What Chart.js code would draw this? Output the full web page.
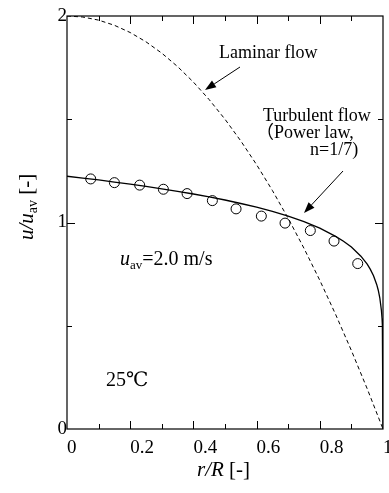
<!DOCTYPE html>
<html>
<head>
<meta charset="utf-8">
<script src="https://cdn.jsdelivr.net/npm/chart.js@4.4.1/dist/chart.umd.min.js"></script>
<style>
  html, body { margin: 0; padding: 0; background: #fff; }
  #wrap { width: 389px; height: 493px; }
</style>
</head>
<body>
<div id="wrap"><canvas id="profile"></canvas></div>
<script>
// velocity profile in a pipe, r/R against u/uav

// measured points (circles)
const measR = [0.075, 0.15, 0.23, 0.305, 0.38, 0.46, 0.535, 0.615, 0.69, 0.77, 0.845, 0.92];
const measU = [1.211, 1.193, 1.181, 1.161, 1.140, 1.106, 1.066, 1.031, 0.997, 0.961, 0.910, 0.801];

// laminar profile (dashed)
const lamR = [0, 0.05, 0.1, 0.15, 0.2, 0.25, 0.3, 0.35, 0.4, 0.45, 0.5, 0.55, 0.6, 0.65, 0.7, 0.75, 0.8, 0.85, 0.9, 0.95, 1];
const lamU = [2, 1.995, 1.98, 1.955, 1.92, 1.875, 1.82, 1.755, 1.68, 1.595, 1.5, 1.395, 1.28, 1.155, 1.02, 0.875, 0.72, 0.555, 0.38, 0.195, 0];

// turbulent profile, power law n=1/7 (solid)
const turbR = [0, 0.05, 0.1, 0.15, 0.2, 0.25, 0.3, 0.35, 0.4, 0.45, 0.5, 0.55, 0.6, 0.65, 0.7, 0.75, 0.8, 0.85, 0.875, 0.9, 0.93, 0.95, 0.96, 0.97, 0.98, 0.985, 0.99, 0.995, 0.997, 0.998, 1];
const turbU = [1.224, 1.215, 1.206, 1.196, 1.186, 1.175, 1.163, 1.151, 1.138, 1.124, 1.109, 1.092, 1.074, 1.054, 1.031, 1.004, 0.973, 0.933, 0.909, 0.881, 0.837, 0.798, 0.773, 0.742, 0.700, 0.672, 0.634, 0.574, 0.535, 0.504, 0];

// tick labels
const xTickValues = [0, 0.2, 0.4, 0.6, 0.8, 1];
const xTickLabels = ['0', '0.2', '0.4', '0.6', '0.8', '1'];
const yTickValues = [0, 1, 2];
const yTickLabels = ['0', '1', '2'];

const SERIF = "'Liberation Serif', 'DejaVu Serif', 'Noto Sans CJK JP', serif";

function pairs(xs, ys) {
    return xs.map((x, i) => ({ x: x, y: ys[i] }));
}

function arrow(ctx, x1, y1, x2, y2) {
    const ang = Math.atan2(y2 - y1, x2 - x1);
    const len = 11, half = 4;
    const bx = x2 - len * Math.cos(ang), by = y2 - len * Math.sin(ang);
    ctx.beginPath();
    ctx.moveTo(x1, y1);
    ctx.lineTo(bx, by);
    ctx.stroke();
    ctx.beginPath();
    ctx.moveTo(x2, y2);
    ctx.lineTo(bx + half * Math.sin(ang), by - half * Math.cos(ang));
    ctx.lineTo(bx - half * Math.sin(ang), by + half * Math.cos(ang));
    ctx.closePath();
    ctx.fill();
}

// frame, inward ticks, axis titles and notes
const decorations = {
    id: 'decorations',
    afterDraw(chart) {
        const ctx = chart.ctx;
        const a = chart.chartArea;
        const xs = chart.scales.x, ys = chart.scales.y;
        ctx.save();
        ctx.strokeStyle = '#000';
        ctx.fillStyle = '#000';
        ctx.lineWidth = 1.2;
        ctx.strokeRect(a.left, a.top, a.right - a.left, a.bottom - a.top);

        ctx.lineWidth = 1;
        ctx.beginPath();
        for (let i = 1; i < 10; i++) {
            const px = Math.round(xs.getPixelForValue(i / 10)) + 0.5;
            const len = i % 2 === 0 ? 8 : 5;
            ctx.moveTo(px, a.bottom); ctx.lineTo(px, a.bottom - len);
            ctx.moveTo(px, a.top); ctx.lineTo(px, a.top + len);
        }
        [0.5, 1, 1.5].forEach(v => {
            const py = Math.round(ys.getPixelForValue(v)) + 0.5;
            const len = v === 1 ? 8 : 5;
            ctx.moveTo(a.left, py); ctx.lineTo(a.left + len, py);
            ctx.moveTo(a.right, py); ctx.lineTo(a.right - len, py);
        });
        ctx.stroke();

        ctx.textBaseline = 'alphabetic';
        ctx.textAlign = 'left';

        // x title: r/R [-]
        let x = 197;
        ctx.font = 'italic 21px ' + SERIF;
        ctx.fillText('r/R', x, 476);
        x += ctx.measureText('r/R').width;
        ctx.font = '21px ' + SERIF;
        ctx.fillText(' [-]', x, 476);

        // y title: u/uav [-], rotated
        ctx.save();
        ctx.translate(33, 240);
        ctx.rotate(-Math.PI / 2);
        x = 0;
        ctx.font = 'italic 21px ' + SERIF;
        ctx.fillText('u/u', x, 0);
        x += ctx.measureText('u/u').width;
        ctx.font = '14px ' + SERIF;
        ctx.fillText('av', x, 4);
        x += ctx.measureText('av').width;
        ctx.font = '21px ' + SERIF;
        ctx.fillText(' [-]', x, 0);
        ctx.restore();

        // velocity note
        x = 120;
        ctx.font = 'italic 20px ' + SERIF;
        ctx.fillText('u', x, 265);
        x += ctx.measureText('u').width;
        ctx.font = '13px ' + SERIF;
        ctx.fillText('av', x, 269);
        x += ctx.measureText('av').width;
        ctx.font = '20px ' + SERIF;
        ctx.fillText('=2.0 m/s', x, 265);

        ctx.font = '20px ' + SERIF;
        ctx.fillText('25℃', 106, 386);

        ctx.font = '18px ' + SERIF;
        ctx.fillText('Laminar flow', 219, 58);
        ctx.fillText('Turbulent flow', 263, 121);
        ctx.fillText('（Power law,', 256, 138);
        ctx.fillText('n=1/7)', 310, 155);

        ctx.lineWidth = 1;
        arrow(ctx, 240, 67, 205, 90);
        arrow(ctx, 343, 171, 304, 213);
        ctx.restore();
    }
};

const tickFont = { family: SERIF, size: 19 };

new Chart(document.getElementById('profile'), {
    type: 'scatter',
    data: {
        datasets: [
            {
                label: 'Laminar flow',
                data: pairs(lamR, lamU),
                showLine: true,
                borderColor: '#000',
                borderWidth: 1,
                borderDash: [4, 3],
                pointRadius: 0,
                tension: 0
            },
            {
                label: 'Turbulent flow',
                data: pairs(turbR, turbU),
                showLine: true,
                borderColor: '#000',
                borderWidth: 1.3,
                pointRadius: 0,
                tension: 0
            },
            {
                label: 'Measured',
                data: pairs(measR, measU),
                showLine: false,
                pointStyle: 'circle',
                pointRadius: 5,
                borderColor: '#000',
                backgroundColor: 'rgba(0,0,0,0)',
                pointBorderWidth: 1
            }
        ]
    },
    options: {
        responsive: true,
        maintainAspectRatio: false,
        animation: false,
        events: [],
        layout: { padding: { top: 16, right: 6, left: 0, bottom: 0 } },
        plugins: {
            legend: { display: false },
            tooltip: { enabled: false }
        },
        scales: {
            x: {
                type: 'linear',
                min: 0,
                max: 1,
                grid: { display: false, drawTicks: false },
                border: { display: false },
                afterBuildTicks: s => { s.ticks = xTickValues.map(v => ({ value: v })); },
                ticks: {
                    color: '#000',
                    font: tickFont,
                    align: 'start',
                    padding: 8,
                    maxRotation: 0,
                    autoSkip: false,
                    callback: (v, i) => xTickLabels[i]
                },
                afterFit: s => { s.height = 64; s.paddingLeft = 0; s.paddingRight = 0; }
            },
            y: {
                type: 'linear',
                min: 0,
                max: 2,
                grid: { display: false, drawTicks: false },
                border: { display: false },
                afterBuildTicks: s => { s.ticks = yTickValues.map(v => ({ value: v })); },
                ticks: {
                    color: '#000',
                    font: tickFont,
                    padding: 0,
                    autoSkip: false,
                    callback: (v, i) => yTickLabels[i]
                },
                afterFit: s => { s.width = 67; s.paddingTop = 0; s.paddingBottom = 0; }
            }
        }
    },
    plugins: [decorations]
});
</script>
</body>
</html>
